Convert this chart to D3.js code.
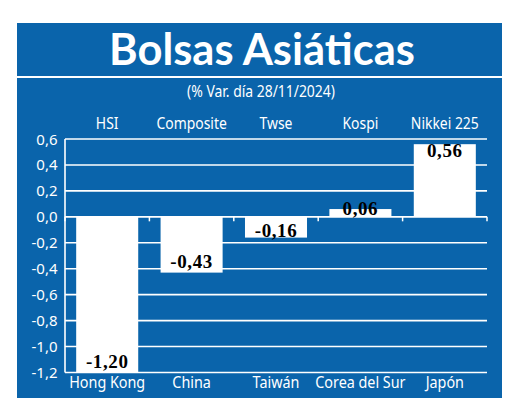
<!DOCTYPE html>
<html><head><meta charset="utf-8">
<script src="https://cdn.jsdelivr.net/npm/d3@7"></script>
<style>html,body{margin:0;padding:0;background:#fff;}svg{display:block;}</style>
</head><body>
<div id="chart"></div>
<script>
const indices = ["HSI", "Composite", "Twse", "Kospi", "Nikkei 225"];
const countries = ["Hong Kong", "China", "Taiwán", "Corea del Sur", "Japón"];
const values = [-1.20, -0.43, -0.16, 0.06, 0.56];
const yTicks = [0.6, 0.4, 0.2, 0.0, -0.2, -0.4, -0.6, -0.8, -1.0, -1.2];
const title = "Bolsas Asiáticas";
const subtitle = "(% Var. día 28/11/2024)";

const W = 520, H = 415;
const BLUE = "#0a64ab";
const svg = d3.select("#chart").append("svg").attr("width", W).attr("height", H);

svg.append("rect").attr("x", 17).attr("y", 23).attr("width", 485).attr("height", 375).attr("fill", BLUE);
svg.append("rect").attr("x", 17).attr("y", 76).attr("width", 485).attr("height", 2).attr("fill", "#fff");

svg.append("text").attr("x", 262).attr("y", 64.5).attr("text-anchor", "middle")
  .attr("font-family", "Lato").attr("font-weight", 700).attr("font-size", 43.5)
  .attr("fill", "#fff").text(title);

const cond = 0.87;
function condText(g, x, y, txt, size) {
  return g.append("text").attr("transform", `translate(${x},${y}) scale(${cond},1)`)
    .attr("text-anchor", "middle").attr("font-family", "Noto Sans").attr("font-size", size)
    .attr("fill", "#fff").text(txt);
}
condText(svg, 261, 97, subtitle, 16);

const x = d3.scaleBand().domain(d3.range(values.length)).range([65, 487]).paddingInner(0.265).paddingOuter(0.1325);
const y = d3.scaleLinear().domain([-1.2, 0.6]).range([372.5, 139]);

// gridlines
svg.append("g").selectAll("line").data(yTicks).join("line")
  .attr("x1", 65).attr("x2", 487).attr("y1", d => y(d)).attr("y2", d => y(d))
  .attr("stroke", "#fff").attr("stroke-width", 1.6);
// left axis
svg.append("line").attr("x1", 65).attr("x2", 65).attr("y1", y(0.6)).attr("y2", y(-1.2))
  .attr("stroke", "#fff").attr("stroke-width", 1.6);
// boundary ticks on zero line
const step = x.step();
svg.append("g").selectAll("line").data(d3.range(values.length + 1)).join("line")
  .attr("x1", i => 65 + i * step).attr("x2", i => 65 + i * step)
  .attr("y1", y(0)).attr("y2", y(0) + 4.5)
  .attr("stroke", "#fff").attr("stroke-width", 1.5);

// y labels
svg.append("g").selectAll("text").data(yTicks).join("text")
  .attr("x", 57.5).attr("y", d => y(d) + 5.5).attr("text-anchor", "end")
  .attr("font-family", "Noto Sans").attr("font-size", 15).attr("fill", "#fff")
  .text(d => d3.format(".1f")(d).replace(".", ",").replace("−", "-"));

// bars
svg.append("g").selectAll("rect").data(values).join("rect")
  .attr("x", (d, i) => x(i)).attr("width", x.bandwidth())
  .attr("y", d => y(Math.max(0, d))).attr("height", d => Math.abs(y(d) - y(0)))
  .attr("fill", "#fff");

// value labels
svg.append("g").selectAll("text").data(values).join("text")
  .attr("x", (d, i) => x(i) + x.bandwidth() / 2)
  .attr("y", d => d >= 0 ? Math.min(y(d) + 13, y(0) - 2) : Math.max(y(d) - 5, y(0) + 20))
  .attr("text-anchor", "middle").attr("font-family", "Liberation Serif").attr("font-weight", 700)
  .attr("font-size", 19).attr("letter-spacing", 0.6).attr("fill", "#000")
  .text(d => d3.format(".2f")(d).replace(".", ",").replace("−", "-"));

// category labels
const topG = svg.append("g");
indices.forEach((t, i) => condText(topG, x(i) + x.bandwidth() / 2, 129, t, 16));
const botG = svg.append("g");
countries.forEach((t, i) => condText(botG, x(i) + x.bandwidth() / 2, 388, t, 16.5));
</script>
</body></html>
